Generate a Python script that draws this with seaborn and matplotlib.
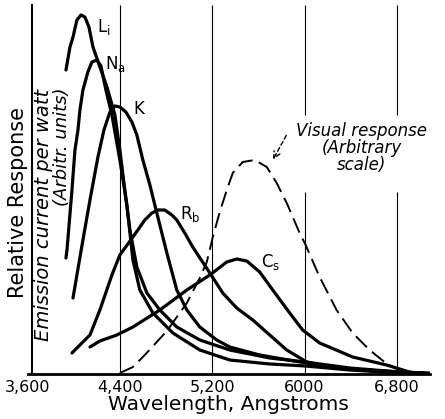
import seaborn as sns
import matplotlib
matplotlib.use('Agg')
import matplotlib.pyplot as plt
import pandas as pd

# wavelength (Angstrom) / relative response
li_wl = [3933, 3968, 3994, 4028, 4063, 4097, 4132, 4167, 4227, 4288, 4357, 4400, 4443, 4487,
         4547, 4634, 4746, 4893, 5092, 5352, 5698, 6009, 6390, 6822, 7082]
li_resp = [304, 327, 337, 354, 359, 357, 347, 327, 307, 287, 259, 224, 184, 144,
           107, 81, 64, 47, 34, 24, 16, 12, 6, 2, 1]

na_wl = [3933, 3942, 3985, 4011, 4037, 4054, 4080, 4123, 4158, 4201, 4236, 4279, 4331, 4400,
         4461, 4513, 4573, 4686, 4859, 5092, 5352, 5698, 6009, 6390, 6822]
na_resp = [116, 124, 184, 224, 244, 264, 284, 302, 312, 314, 308, 284, 259, 214,
           169, 114, 84, 61, 41, 24, 14, 10, 8, 4, 1]

k_wl = [3994, 4028, 4080, 4141, 4210, 4262, 4314, 4357, 4400, 4452, 4504, 4547, 4599, 4660,
        4720, 4807, 4893, 4980, 5092, 5239, 5352, 5611, 6009, 6390, 6822, 7038]
k_resp = [76, 99, 134, 174, 217, 244, 262, 268, 267, 262, 252, 239, 214, 189,
          161, 121, 84, 64, 47, 34, 27, 19, 11, 5, 2, 1]

rb_wl = [3985, 4054, 4141, 4227, 4331, 4400, 4513, 4616, 4677, 4729, 4789, 4850, 4893, 4962,
         5031, 5179, 5291, 5412, 5551, 5698, 5845, 6018, 6217, 6476, 6822, 6995]
rb_resp = [21, 29, 39, 64, 99, 119, 137, 154, 161, 164, 164, 159, 154, 141,
           127, 101, 81, 66, 54, 39, 24, 12, 7, 4, 2, 1]

cs_wl = [4141, 4227, 4374, 4513, 4746, 4980, 5179, 5326, 5412, 5499, 5611, 5724, 5871, 5983,
         6130, 6416, 6710, 6935]
cs_resp = [27, 33, 39, 47, 64, 84, 99, 112, 115, 113, 102, 84, 61, 44,
           31, 17, 9, 1]

vis_wl = [4400, 4513, 4616, 4807, 4980, 5092, 5153, 5205, 5265, 5326, 5378, 5464, 5568, 5672,
          5758, 5845, 5957, 6009, 6130, 6277, 6416, 6563, 6692, 6796]
vis_resp = [1, 7, 19, 43, 71, 96, 112, 137, 162, 184, 201, 212, 214, 207,
            191, 171, 141, 129, 97, 64, 41, 24, 12, 5]

tick_values = [3600, 4400, 5200, 6000, 6800]
tick_labels = ['3,600', '4,400', '5,200', '6000', '6,800']

series = {
    'Li': (li_wl, li_resp),
    'Na': (na_wl, na_resp),
    'K': (k_wl, k_resp),
    'Rb': (rb_wl, rb_resp),
    'Cs': (cs_wl, cs_resp),
}

sns.set_theme(style='white')
plt.rcParams['font.family'] = ['DejaVu Sans']
plt.rcParams['mathtext.default'] = 'regular'
plt.rcParams['text.color'] = 'black'
plt.rcParams['axes.labelcolor'] = 'black'
plt.rcParams['xtick.color'] = 'black'

fig = plt.figure(figsize=(4.45, 4.19), dpi=100)
ax = fig.add_axes([0.0618, 0.1074, 0.9045, 0.8807])

# vertical rules, the two right ones broken for the note
for x in [4400, 5200]:
    ax.vlines(x, 0, 369, color='black', lw=0.8, zorder=1)
for x in [6000, 6800]:
    ax.vlines(x, 0, 182, color='black', lw=0.8, zorder=1)
    ax.vlines(x, 259, 369, color='black', lw=0.8, zorder=1)

for name, (wl, resp) in series.items():
    df = pd.DataFrame({'wavelength': wl, 'response': resp})
    sns.lineplot(data=df, x='wavelength', y='response', color='black', lw=2.3,
                 estimator=None, sort=False, ax=ax, zorder=3,
                 solid_joinstyle='round', solid_capstyle='round')

vis = pd.DataFrame({'wavelength': vis_wl, 'response': vis_resp})
sns.lineplot(data=vis, x='wavelength', y='response', color='black', lw=1.4,
             linestyle=(0, (8, 3.5)), estimator=None, sort=False, ax=ax, zorder=3)

# curve labels
ax.text(4261, 347, '$L_i$', fontsize=12, ha='center', va='center')
ax.text(4357, 310, '$N_a$', fontsize=12, ha='center', va='center')
ax.text(4565, 265, 'K', fontsize=12, ha='center', va='center')
ax.text(5006, 160, '$R_b$', fontsize=12, ha='center', va='center')
ax.text(5708, 112, '$C_s$', fontsize=12, ha='center', va='center')

ax.text(6497, 226, 'Visual response\n(Arbitrary\nscale)', fontsize=12, style='italic',
        ha='center', va='center', multialignment='center', linespacing=0.95)
ax.annotate('', xy=(5715, 212), xytext=(5853, 241),
            arrowprops=dict(arrowstyle='->', linestyle=(0, (3, 2)), lw=1.0, color='black'))

ax.text(3742, 285, 'Emission current per watt', fontsize=14, style='italic',
        rotation=90, ha='center', va='top')
ax.text(3898, 286, '(Arbitr. units)', fontsize=13, style='italic',
        rotation=90, ha='center', va='top')

fig.text(18 / 445, 1 - 203 / 419, 'Relative Response', fontsize=15, rotation=90,
         ha='center', va='center')

ax.set_xlim(3600, 7086)
ax.set_ylim(0, 369)
ax.set_xticks(tick_values)
ax.set_xticklabels(tick_labels, fontsize=11.5)
ax.set_yticks([])
ax.tick_params(axis='x', length=0, pad=4)
ax.set_xlabel('Wavelength, Angstroms', fontsize=14.5, labelpad=0)
ax.set_ylabel('')

ax.spines['top'].set_visible(False)
ax.spines['right'].set_visible(False)
ax.spines['left'].set_position(('data', 3639))
ax.spines['left'].set_linewidth(1.5)
ax.spines['left'].set_color('black')
ax.spines['bottom'].set_linewidth(2)
ax.spines['bottom'].set_color('black')

fig.savefig('out.png', dpi=100)
